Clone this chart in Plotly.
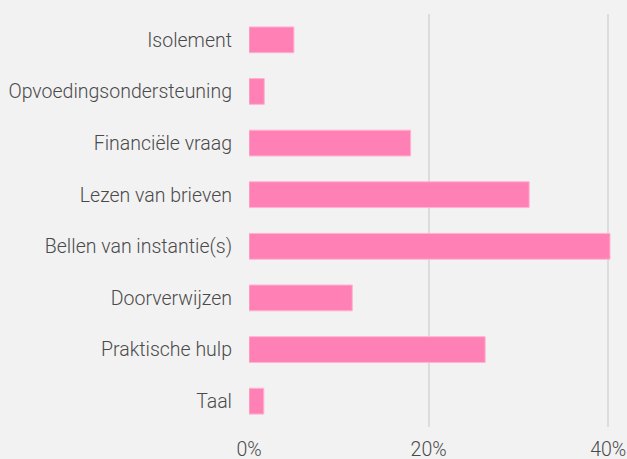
import plotly.graph_objects as go

categories = ["Isolement", "Opvoedingsondersteuning", "Financiële vraag", "Lezen van brieven",
              "Bellen van instantie(s)", "Doorverwijzen", "Praktische hulp", "Taal"]
values = [5.0, 1.7, 18.0, 31.2, 40.2, 11.5, 26.3, 1.65]
x_ticks = [0, 20, 40]
x_tick_labels = ["0%", "20%", "40%"]

fig = go.Figure(go.Bar(
    y=categories, x=values, orientation="h", width=0.5,
    marker=dict(color="#FF80B5", line=dict(color="#FFB3D1", width=1)),
))

font = dict(family="Roboto", size=19.5, color="#4a4a4a", weight=300)

fig.update_layout(
    width=627, height=459,
    margin=dict(l=249, r=10, t=14, b=32),
    paper_bgcolor="#f2f2f2", plot_bgcolor="#f2f2f2",
    showlegend=False,
    font=font,
    bargap=0.5,
)
fig.update_xaxes(
    range=[0, 40.98], tickvals=x_ticks, ticktext=x_tick_labels,
    showgrid=True, gridcolor="#dcdcdc", gridwidth=1.5,
    zeroline=False, showline=False, ticks="", automargin=False,
    ticklabelstandoff=8, tickfont=font, fixedrange=True,
)
fig.update_yaxes(
    categoryorder="array", categoryarray=categories, autorange="reversed",
    showgrid=False, zeroline=False, showline=False, ticks="", automargin=False,
    ticklabelstandoff=16, tickfont=font, fixedrange=True,
)

fig.write_html(
    "out.html",
    config={"displayModeBar": False},
    post_script="document.body.style.margin='0';document.body.style.background='#f2f2f2';document.body.style.overflow='hidden';",
)
